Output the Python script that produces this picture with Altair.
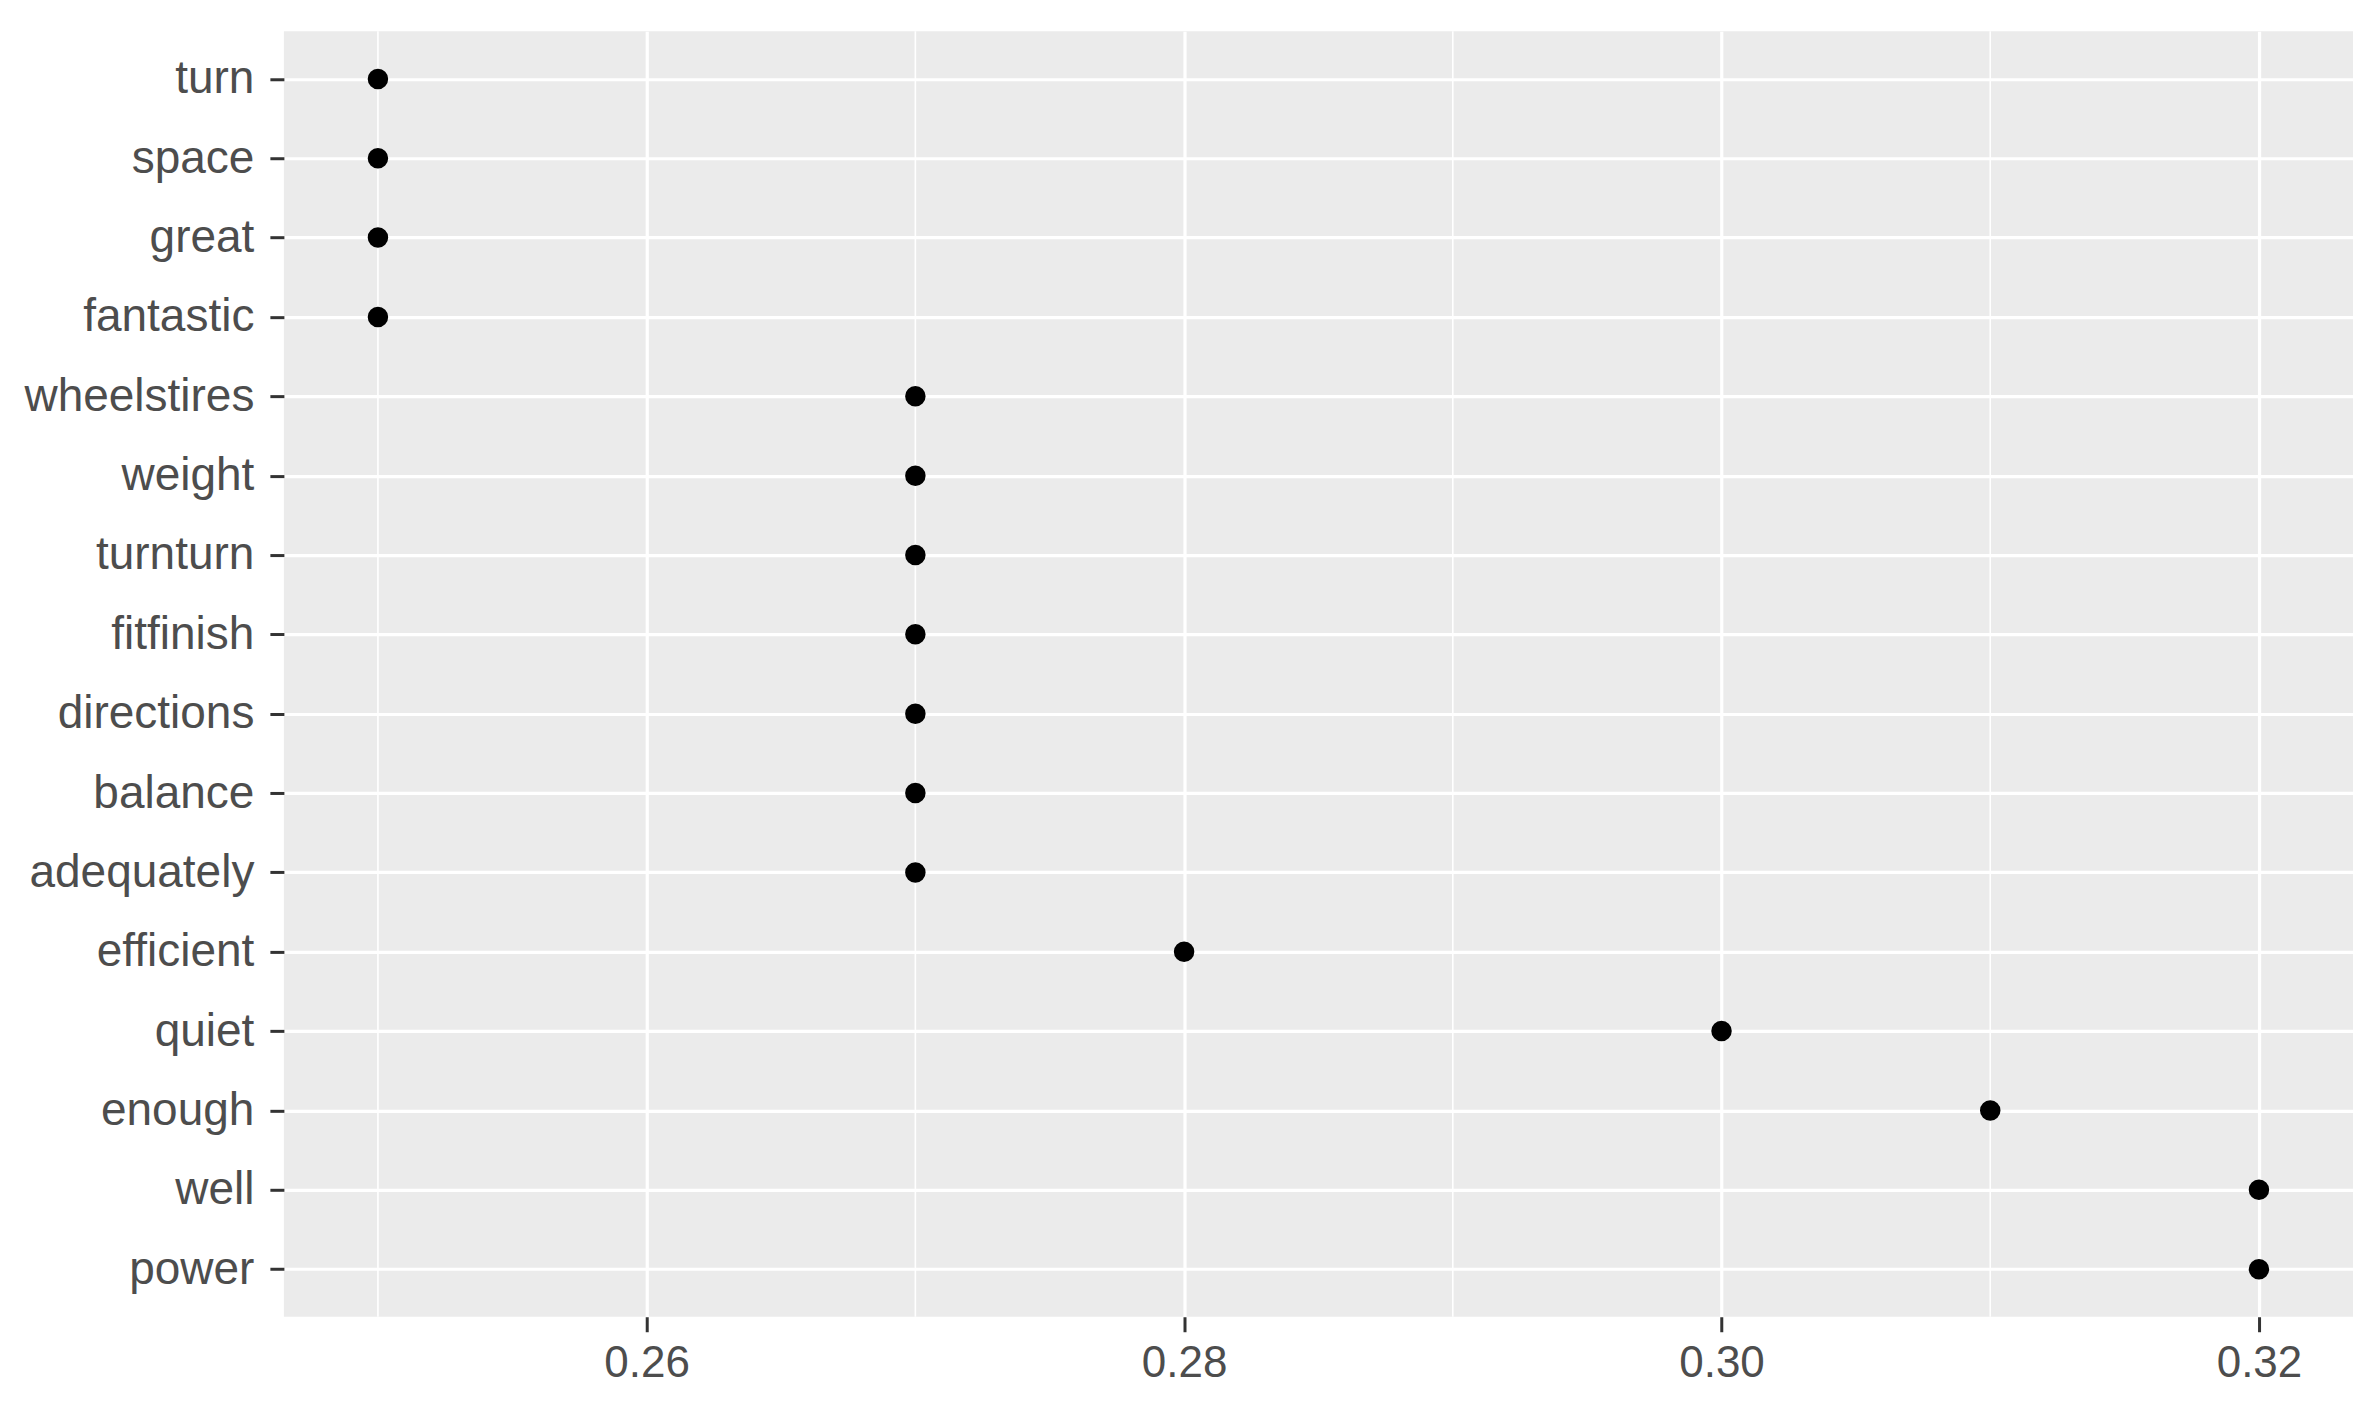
import altair as alt
import pandas as pd

terms = ["turn", "space", "great", "fantastic", "wheelstires", "weight", "turnturn",
         "fitfinish", "directions", "balance", "adequately", "efficient", "quiet",
         "enough", "well", "power"]
corr = [0.25, 0.25, 0.25, 0.25, 0.27, 0.27, 0.27, 0.27, 0.27, 0.27, 0.27,
        0.28, 0.30, 0.31, 0.32, 0.32]
x_ticks = [0.26, 0.28, 0.30, 0.32]
minor_breaks = [0.25, 0.27, 0.29, 0.31]

df = pd.DataFrame({"term": terms, "corr": corr})
minor_df = pd.DataFrame({"m": minor_breaks})

FONT = "Liberation Sans"

x_scale = alt.Scale(domain=[0.2465, 0.3235], nice=False, zero=False)
y_scale = alt.Scale(type="point", padding=0.6, domain=terms)

minor = alt.Chart(minor_df).mark_rule(color="white", strokeWidth=1.6).encode(
    x=alt.X("m:Q", scale=x_scale)
)

points = alt.Chart(df).mark_circle(color="black", size=420, opacity=1).encode(
    x=alt.X("corr:Q", scale=x_scale,
            title="Correlation with the term \"wheelchair\"",
            axis=alt.Axis(values=x_ticks, format=".2f", grid=True, gridColor="white",
                          gridWidth=3.2, domain=False, tickColor="#333333",
                          tickWidth=3, tickSize=15, labelFont=FONT, labelFontSize=44,
                          labelColor="#4D4D4D", labelPadding=10, titleFont=FONT,
                          titleFontSize=44, titleFontWeight="normal", titleColor="black",
                          titlePadding=15)),
    y=alt.Y("term:N", scale=y_scale, sort=terms, title=None,
            axis=alt.Axis(grid=True, gridColor="white", gridWidth=3.2, domain=False,
                          tickColor="#333333", tickWidth=3, tickSize=14,
                          labelFont=FONT, labelFontSize=46, labelColor="#4D4D4D",
                          labelPadding=16, labelLimit=0)),
)

chart = alt.layer(minor, points).properties(
    width=2070, height=1286,
    autosize=alt.AutoSizeParams(type="none"),
    padding={"left": 276, "top": 23, "right": 16, "bottom": 86},
    background="white",
).configure_view(fill="#EBEBEB", stroke=None)

chart.save("out.html", embed_options={"renderer": "svg", "actions": False})
